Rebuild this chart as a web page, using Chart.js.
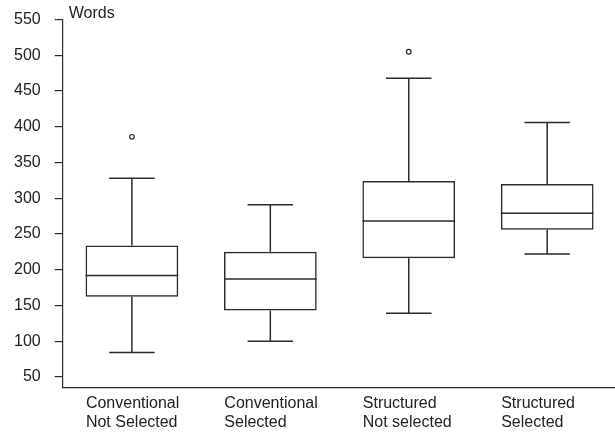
<!DOCTYPE html>
<html lang="en">
<head>
    <meta charset="UTF-8">
    <title>Words box plot</title>
    <script src="https://cdn.jsdelivr.net/npm/chart.js"></script>
    <style>
        body { margin: 0; padding: 0; background: #fff; overflow: hidden; }
        #boxChart { display: block; margin-top: -4px; }
    </style>
</head>
<body>
    <canvas id="boxChart" width="627" height="437"></canvas>
    <script>
        // Dados
        var categories = [
            ['Conventional', 'Not Selected'],
            ['Conventional', 'Selected'],
            ['Structured', 'Not selected'],
            ['Structured', 'Selected']
        ];
        var mins = [84, 100, 139, 222];
        var q1s = [162, 143, 216, 256];
        var medians = [192, 187, 268, 279];
        var q3s = [234, 225, 324, 320];
        var maxs = [328, 291, 468, 406];
        var outliers = [386, null, 505, null];
        var yTicks = [50, 100, 150, 200, 250, 300, 350, 400, 450, 500, 550];

        var lineColor = '#2b2b2b';
        var font = { family: 'Liberation Sans, Arial, sans-serif', size: 16 };

        // whiskers, caps and median lines, placed with the chart scales
        var whiskerPlugin = {
            id: 'whiskers',
            afterDatasetsDraw: function (chart) {
                var ctx = chart.ctx;
                var y = chart.scales.y;
                var boxes = chart.getDatasetMeta(0).data;
                ctx.save();
                ctx.strokeStyle = lineColor;
                ctx.lineWidth = 1.5;
                boxes.forEach(function (bar, i) {
                    var cx = bar.x;
                    var half = bar.width / 2;
                    var cap = bar.width * 0.245;
                    ctx.beginPath();
                    // median
                    ctx.moveTo(cx - half, y.getPixelForValue(medians[i]));
                    ctx.lineTo(cx + half, y.getPixelForValue(medians[i]));
                    // upper whisker
                    ctx.moveTo(cx, y.getPixelForValue(q3s[i]));
                    ctx.lineTo(cx, y.getPixelForValue(maxs[i]));
                    ctx.moveTo(cx - cap, y.getPixelForValue(maxs[i]));
                    ctx.lineTo(cx + cap, y.getPixelForValue(maxs[i]));
                    // lower whisker
                    ctx.moveTo(cx, y.getPixelForValue(q1s[i]));
                    ctx.lineTo(cx, y.getPixelForValue(mins[i]));
                    ctx.moveTo(cx - cap, y.getPixelForValue(mins[i]));
                    ctx.lineTo(cx + cap, y.getPixelForValue(mins[i]));
                    ctx.stroke();
                });
                // y axis label
                ctx.fillStyle = '#222';
                ctx.font = '16px ' + font.family;
                ctx.textAlign = 'left';
                ctx.textBaseline = 'middle';
                ctx.fillText('Words', chart.chartArea.left + 6, 18);
                ctx.restore();
            }
        };

        var ctx1 = document.getElementById('boxChart').getContext('2d');
        var boxChart = new Chart(ctx1, {
            type: 'bar',
            data: {
                labels: categories,
                datasets: [{
                    label: 'Box',
                    data: q1s.map(function (v, i) { return [v, q3s[i]]; }),
                    backgroundColor: 'rgba(255,255,255,0)',
                    borderColor: lineColor,
                    borderWidth: 1.5,
                    borderSkipped: false,
                    barPercentage: 0.67,
                    categoryPercentage: 1
                }, {
                    type: 'line',
                    label: 'Outliers',
                    data: outliers,
                    showLine: false,
                    pointStyle: 'circle',
                    pointRadius: 2.3,
                    pointBorderWidth: 1.2,
                    pointBackgroundColor: '#fff',
                    pointBorderColor: lineColor
                }]
            },
            options: {
                responsive: false,
                animation: false,
                layout: {
                    autoPadding: false,
                    padding: { top: 14, left: 0, right: -15, bottom: -5 }
                },
                plugins: {
                    legend: { display: false },
                    tooltip: { enabled: false }
                },
                scales: {
                    x: {
                        offset: true,
                        grid: { display: false, drawTicks: false },
                        border: { display: true, color: lineColor, width: 1.2 },
                        ticks: {
                            color: '#222',
                            font: font,
                            align: 'start',
                            labelOffset: -46,
                            padding: 6,
                            maxRotation: 0,
                            autoSkip: false
                        }
                    },
                    y: {
                        min: 35,
                        max: 550,
                        grid: {
                            display: true,
                            drawOnChartArea: false,
                            drawTicks: true,
                            tickLength: 8,
                            color: lineColor,
                            lineWidth: 1.2
                        },
                        border: { display: true, color: lineColor, width: 1.2 },
                        afterBuildTicks: function (axis) {
                            axis.ticks = yTicks.map(function (v) { return { value: v }; });
                        },
                        ticks: {
                            color: '#222',
                            font: font,
                            padding: 14
                        }
                    }
                }
            },
            plugins: [whiskerPlugin]
        });
    </script>
</body>
</html>
